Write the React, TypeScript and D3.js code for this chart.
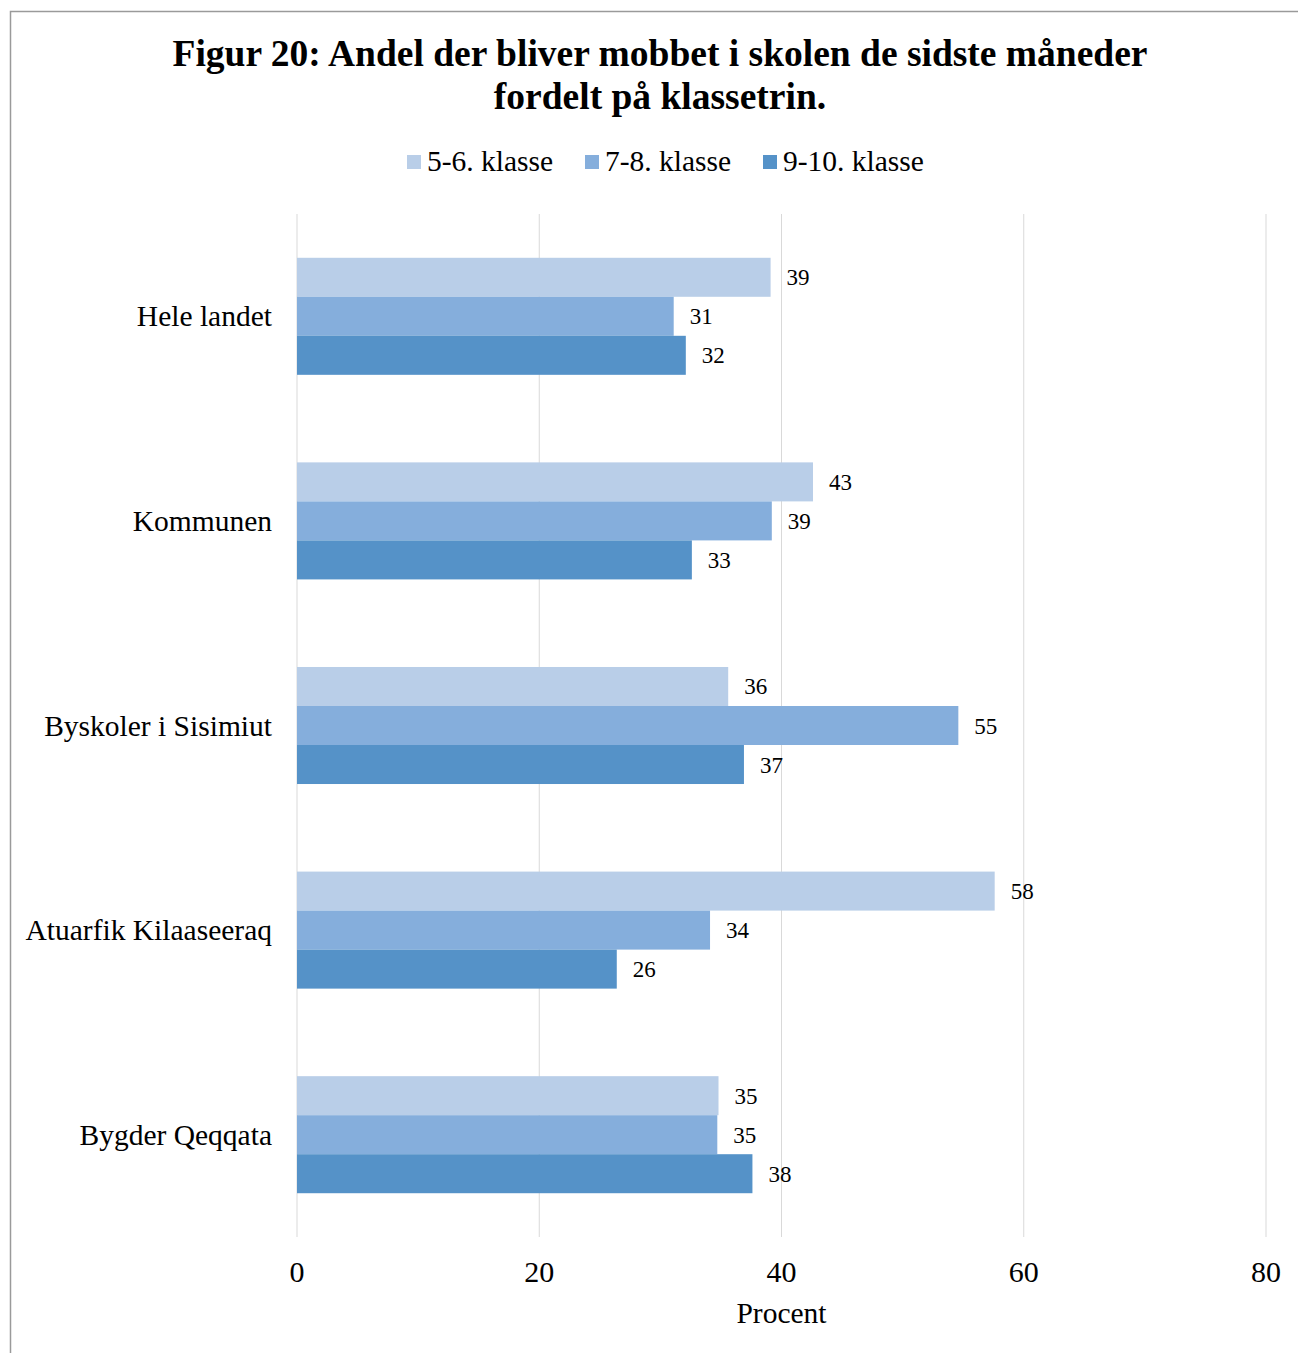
import React from "react";
import * as d3 from "d3";

const categories = ["Hele landet", "Kommunen", "Byskoler i Sisimiut", "Atuarfik Kilaaseeraq", "Bygder Qeqqata"];
const seriesNames = ["5-6. klasse", "7-8. klasse", "9-10. klasse"];
const values56 = [39.1, 42.6, 35.6, 57.6, 34.8];
const values78 = [31.1, 39.2, 54.6, 34.1, 34.7];
const values910 = [32.1, 32.6, 36.9, 26.4, 37.6];
const xTicks = [0, 20, 40, 60, 80];
const colors = ["#B9CEE8", "#85AEDC", "#5592C8"];

const FONT = "'Liberation Serif', 'Times New Roman', serif";

export default function App() {
  const series = [values56, values78, values910];
  const left = 297, right = 1266, top = 214, bottom = 1237;
  const x = d3.scaleLinear().domain([0, 80]).range([left, right]);
  const y = d3.scaleBand<string>().domain(categories).range([top, bottom]).paddingInner(0.428).paddingOuter(0.214);
  const inner = d3.scaleBand<number>().domain([0, 1, 2]).range([0, y.bandwidth()]);
  const fmt = d3.format(".0f");
  const legendX = [407, 585, 763];

  return (
    <svg width={1298} height={1353} style={{ position: "absolute", left: 0, top: 0, background: "#fff" }} fontFamily={FONT}>
      <rect x={10.5} y={11.5} width={1400} height={1400} fill="#fff" stroke="#9a9a9a" strokeWidth={1.5} />
      <text x={660} y={66} textAnchor="middle" fontSize={37.5} fontWeight="bold" fill="#000">
        Figur 20: Andel der bliver mobbet i skolen de sidste måneder
      </text>
      <text x={660} y={109} textAnchor="middle" fontSize={37.5} fontWeight="bold" fill="#000">
        fordelt på klassetrin.
      </text>
      {seriesNames.map((s, i) => (
        <g key={s}>
          <rect x={legendX[i]} y={155} width={14} height={14} fill={colors[i]} />
          <text x={legendX[i] + 20} y={171} fontSize={29.5} fill="#000">{s}</text>
        </g>
      ))}
      {xTicks.map((t) => (
        <g key={t}>
          <line x1={x(t)} x2={x(t)} y1={top} y2={bottom} stroke="#d9d9d9" strokeWidth={1} />
          <text x={x(t)} y={1282} textAnchor="middle" fontSize={30} fill="#000">{t}</text>
        </g>
      ))}
      <text x={x(40)} y={1323} textAnchor="middle" fontSize={29.5} fill="#000">Procent</text>
      {categories.map((c, ci) => (
        <g key={c}>
          <text x={272} y={(y(c) as number) + y.bandwidth() / 2 + 10} textAnchor="end" fontSize={29.5} fill="#000">{c}</text>
          {series.map((vals, si) => {
            const yy = (y(c) as number) + (inner(si) as number);
            return (
              <g key={si}>
                <rect x={x(0)} y={yy} width={x(vals[ci]) - x(0)} height={inner.bandwidth()} fill={colors[si]} />
                <text x={x(vals[ci]) + 16} y={yy + inner.bandwidth() / 2 + 8} fontSize={23} fill="#000">{fmt(vals[ci])}</text>
              </g>
            );
          })}
        </g>
      ))}
    </svg>
  );
}
